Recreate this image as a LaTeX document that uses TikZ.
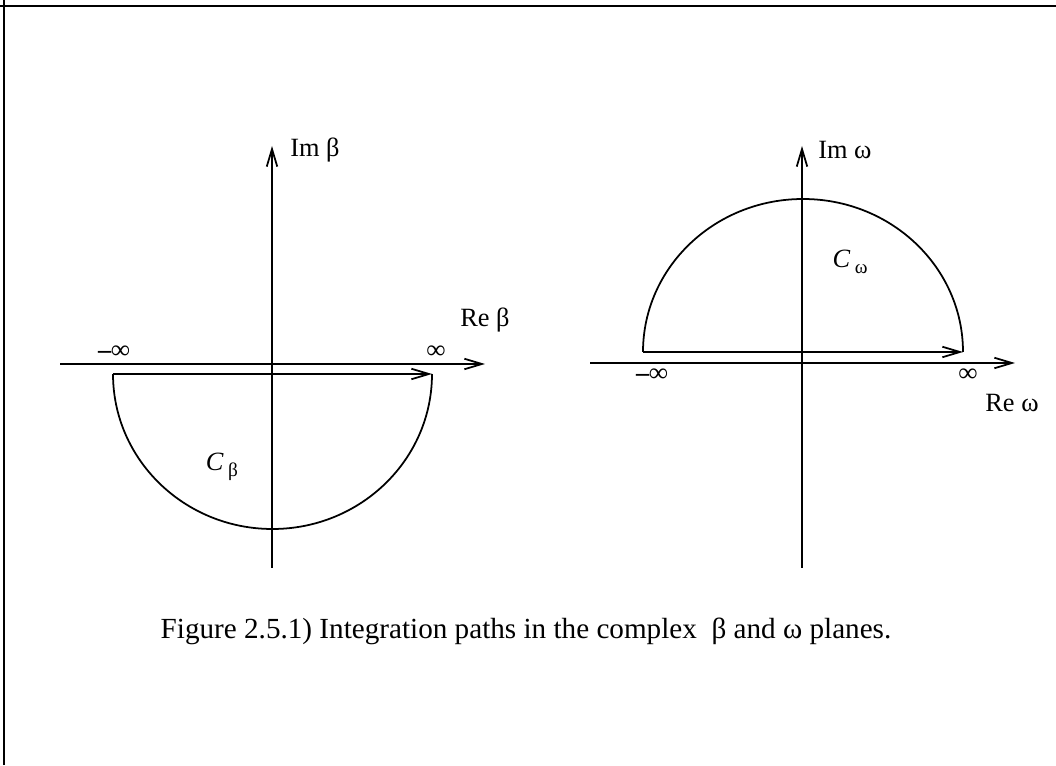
\documentclass[tikz,border=0pt]{standalone}
\usepackage{fontspec}
\setmainfont{Liberation Serif}
\usetikzlibrary{arrows.meta, positioning}

\tikzset{
    axis/.style={line width=1pt, ->},
    contour/.style={line width=1pt},
    lbl/.style={inner sep=0pt, font=\fontsize{15}{18}\selectfont},
    inf/.style={inner sep=0pt, font=\fontsize{15}{18}\selectfont\bfseries},
}
\newcommand{\cbeta}{\textit{C}\,\raisebox{-0.5ex}{\fontsize{11}{12}\selectfont β}}
\newcommand{\comega}{\textit{C}\,\raisebox{-0.5ex}{\fontsize{11}{12}\selectfont ω}}

\begin{document}
\begin{tikzpicture}[>={Straight Barb[length=10pt,width=6pt]}, x=0.02cm, y=0.02cm]
    \useasboundingbox (0,0) rectangle (1056,765);
    % Khung
    \draw[line width=1.2pt] (0,759) -- (1056,759);
    \draw[line width=1.2pt] (4,0) -- (4,765);

    % Mặt phẳng beta
    \coordinate (bS) at (272,197);
    \coordinate (bN) at (272,619);
    \coordinate (bW) at (60,401);
    \coordinate (bE) at (485,401);
    \coordinate (bA) at (113,391);
    \coordinate (bB) at (432,391);
    \draw[axis] (bS) -- (bN);
    \draw[axis] (bW) -- (bE);
    \draw[contour, ->] (bA) -- (bB);
    \draw[contour] (bA) arc[start angle=180, end angle=360, x radius=159.5, y radius=155];
    \node[lbl, anchor=west] (imb) at (290,615) {Im β};
    \node[lbl] (reb) at (485,445) {Re β};
    \node[inf] (mib) at (114,413) {–∞};
    \node[inf] (pib) at (436,413) {∞};
    \node[lbl] (cb) at (222,298) {\cbeta};

    % Mặt phẳng omega
    \coordinate (wS) at (802,197);
    \coordinate (wN) at (802,619);
    \coordinate (wW) at (590,402);
    \coordinate (wE) at (1015,402);
    \coordinate (wA) at (643,413);
    \coordinate (wB) at (963,413);
    \draw[axis] (wS) -- (wN);
    \draw[axis] (wW) -- (wE);
    \draw[contour, ->] (wA) -- (wB);
    \draw[contour] (wA) arc[start angle=180, end angle=0, x radius=160, y radius=153];
    \node[lbl, anchor=west] (imw) at (818,615) {Im ω};
    \node[lbl] (rew) at (1012,362) {Re ω};
    \node[inf] (miw) at (652,390) {–∞};
    \node[inf] (piw) at (968,390) {∞};
    \node[lbl] (cw) at (850,503) {\comega};

    % Chú thích
    \node[lbl, font=\fontsize{16.6}{20}\selectfont] (cap) at (526,134) {Figure 2.5.1) Integration paths in the complex \ β and ω planes.};
\end{tikzpicture}
\end{document}
